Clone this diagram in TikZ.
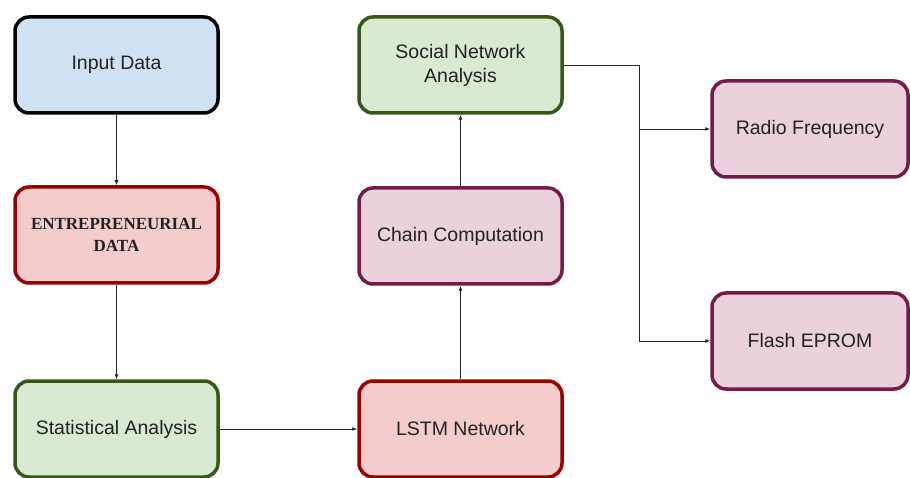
\documentclass[tikz,border=0pt]{standalone}
\usepackage{fontspec}
\setmainfont{Liberation Sans}
\newfontfamily\serifb{Liberation Serif}
\usetikzlibrary{arrows.meta}
\definecolor{bluefill}{HTML}{CFE2F3}
\definecolor{redfill}{HTML}{F4CCCC}
\definecolor{redline}{HTML}{990000}
\definecolor{greenfill}{HTML}{D9EAD3}
\definecolor{greenline}{HTML}{38571A}
\definecolor{purpfill}{HTML}{EAD1DC}
\definecolor{purpline}{HTML}{741B47}
\definecolor{txt}{HTML}{222222}
\tikzset{
  box/.style={draw, line width=3.5pt, rounded corners=14pt, minimum width=203pt, minimum height=96pt, align=center, text=txt, font=\fontsize{19.5}{24}\selectfont, inner sep=0pt},
  bluebox/.style={box, fill=bluefill, draw=black},
  redbox/.style={box, fill=redfill, draw=redline},
  greenbox/.style={box, fill=greenfill, draw=greenline},
  purpbox/.style={box, fill=purpfill, draw=purpline},
  conn/.style={draw=black!85, line width=0.8pt, -{Latex[length=5pt,width=4pt]}},
}
\begin{document}
\begin{tikzpicture}[x=1pt,y=-1pt]
\useasboundingbox (0,0) rectangle (910,478);
\node[bluebox] (in) at (116.5,65) {Input Data};
\node[redbox, font=\serifb\bfseries\fontsize{17}{22}\selectfont] (ent) at (116.5,235) {ENTREPRENEURIAL\\DATA};
\node[greenbox] (stat) at (116.5,429) {Statistical Analysis};
\node[greenbox] (sna) at (460.5,65) {Social Network\\Analysis};
\node[purpbox] (chain) at (460.5,236) {Chain Computation};
\node[redbox] (lstm) at (460.5,429) {LSTM Network};
\node[purpbox, minimum width=196pt] (rf) at (810,129) {Radio Frequency};
\node[purpbox, minimum width=196pt] (fl) at (810,341) {Flash EPROM};
\coordinate (j) at (639,65);
\draw[conn] (in) -- (ent);
\draw[conn] (ent) -- (stat);
\draw[conn] (stat) -- (lstm);
\draw[conn] (lstm) -- (chain);
\draw[conn] (chain) -- (sna);
\draw[draw=black!85, line width=0.8pt] (sna.east) -- (j) -- (j |- fl.west);
\draw[conn] (j |- rf.west) -- (rf.west);
\draw[conn] (j |- fl.west) -- (fl.west);
\end{tikzpicture}
\end{document}
